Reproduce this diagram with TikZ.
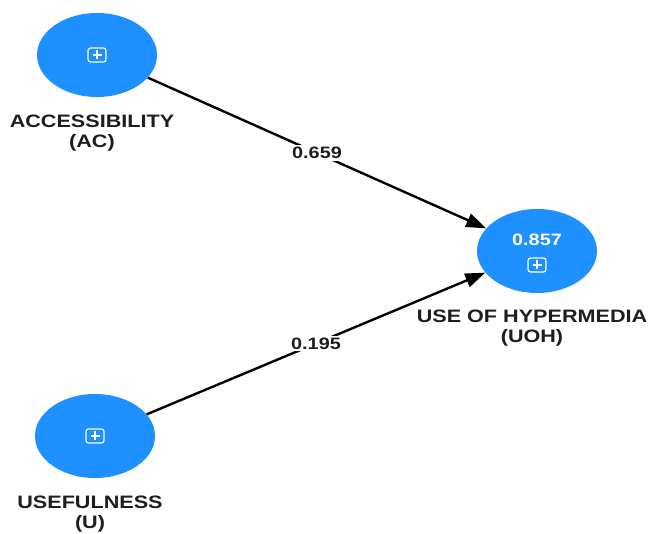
\documentclass[tikz,border=0pt]{standalone}
\usepackage{fontspec}
\usepackage{xcolor}
\usepackage{tikz}
\usetikzlibrary{positioning,arrows.meta,shapes.geometric}
\newfontfamily\lblfont[FakeStretch=1.2]{Liberation Sans}
\definecolor{lvblue}{RGB}{30,144,255}
\definecolor{lbltext}{RGB}{30,30,30}
\tikzset{
  plusbox/.pic={
    \draw[white, line width=1.1pt, rounded corners=2.5pt] (-9,-7) rectangle (9,7);
    \draw[white, line width=1.1pt] (-4.5,0) -- (4.5,0) (0,-4.5) -- (0,4.5);
  }
}

\begin{document}
\begin{tikzpicture}[x=1pt, y=-1pt, node distance=18pt,
  latent/.style={ellipse, fill=lvblue, minimum width=120pt, minimum height=84pt, inner sep=0pt},
  lbl/.style={align=center, inner sep=0pt, text=lbltext, font=\lblfont\bfseries\fontsize{18}{20}\selectfont, xshift=-5pt},
  coef/.style={fill=white, inner sep=2pt, text=lbltext, font=\lblfont\bfseries\fontsize{16.5}{18}\selectfont},
  relpath/.style={line width=2.4pt, -{Triangle[length=20pt, width=14pt]}}]
\useasboundingbox (0,0) rectangle (654,534);
\node[latent] (ac) at (97,55) {};
\node[latent] (u) at (95,436) {};
\node[latent] (uoh) at (537,251) {};
\node[lbl, below=of ac] (aclbl) {ACCESSIBILITY\\(AC)};
\node[lbl, below=of u] (ulbl) {USEFULNESS\\(U)};
\node[lbl, below=17pt of uoh] (uohlbl) {USE OF HYPERMEDIA\\(UOH)};
\pic at (ac) {plusbox};
\pic at (u) {plusbox};
\pic at ([yshift=-14pt]uoh.center) {plusbox};
\node[text=white, inner sep=0pt, font=\lblfont\bfseries\fontsize{16.5}{18}\selectfont] (r2) at ([yshift=11pt]uoh.center) {0.857};
\draw[relpath] (ac) -- node[coef] (p1) {0.659} (uoh);
\draw[relpath] (u) -- node[coef] (p2) {0.195} (uoh);
\end{tikzpicture}
\end{document}
